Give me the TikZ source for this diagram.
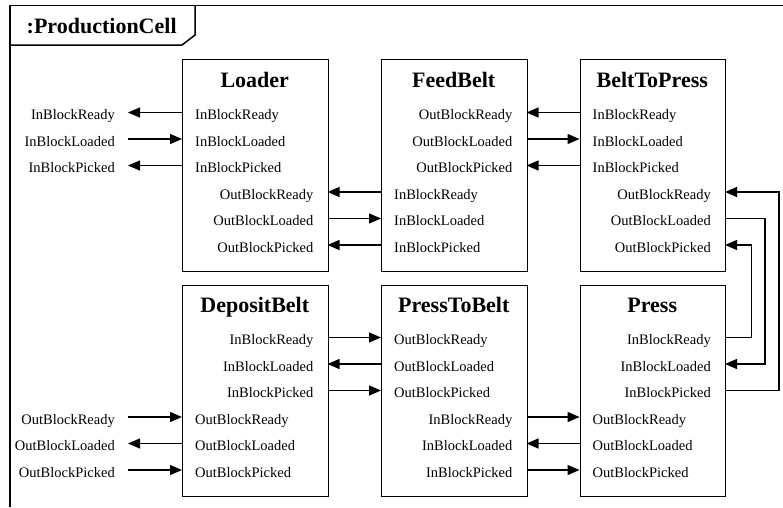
\documentclass[tikz,border=0pt]{standalone}
\usepackage{fontspec}
\setmainfont{Liberation Serif}
\usetikzlibrary{arrows.meta}
\begin{document}
\begin{tikzpicture}[x=1pt,y=-1pt,
  box/.style={draw,line width=1.3pt,minimum width=145.5pt,minimum height=211.5pt,anchor=north west,inner sep=0pt},
  ttl/.style={font=\fontsize{22}{26}\selectfont\bfseries,anchor=base,inner sep=0pt},
  lbl/.style={font=\fontsize{14.5}{17}\selectfont,inner sep=0pt},
  lw/.style={lbl,anchor=base west},
  le/.style={lbl,anchor=base east},
  conn/.style={line width=1.3pt,-{Triangle[length=12pt,width=10pt]}},
  frm/.style={line width=1.5pt}]
\useasboundingbox (0,0) rectangle (783,507);
% frame
\draw[frm] (10,507) -- (10,5.5) -- (783,5.5);
\draw[frm] (10,45) -- (182,45) -- (195,35) -- (195,5.5);
\node[ttl,anchor=base west] (pc) at (26.5,33.5) {:ProductionCell};
% boxes
\node[box] (loader) at (182,59) {};
\node[box] (feed) at (381,59) {};
\node[box] (btp) at (579.5,59) {};
\node[box] (dep) at (182,284.5) {};
\node[box] (ptb) at (381,284.5) {};
\node[box] (press) at (579.5,284.5) {};
\node[ttl] (loader-t) at (254.75,87) {Loader};
\node[ttl] (feed-t) at (453.75,87) {FeedBelt};
\node[ttl] (btp-t) at (652.25,87) {BeltToPress};
\node[ttl] (dep-t) at (254.75,312) {DepositBelt};
\node[ttl] (ptb-t) at (453.75,312) {PressToBelt};
\node[ttl] (press-t) at (652.25,312) {Press};
% ports
\foreach \i in {1,...,6} {
  \coordinate (loader-w\i) at (182,86+26.5*\i);
  \coordinate (loader-e\i) at (327.5,86+26.5*\i);
  \coordinate (feed-w\i) at (381,86+26.5*\i);
  \coordinate (feed-e\i) at (526.5,86+26.5*\i);
  \coordinate (btp-w\i) at (579.5,86+26.5*\i);
  \coordinate (btp-e\i) at (725,86+26.5*\i);
  \coordinate (dep-w\i) at (182,311+26.5*\i);
  \coordinate (dep-e\i) at (327.5,311+26.5*\i);
  \coordinate (ptb-w\i) at (381,311+26.5*\i);
  \coordinate (ptb-e\i) at (526.5,311+26.5*\i);
  \coordinate (press-w\i) at (579.5,311+26.5*\i);
  \coordinate (press-e\i) at (725,311+26.5*\i);
}
\coordinate (rail1) at (751.5,0);
\coordinate (rail2) at (765,0);
\coordinate (rail3) at (779,0);
% labels: top row
\foreach \t [count=\i] in {InBlockReady,InBlockLoaded,InBlockPicked} {
  \node[lw] (loader-l\i) at (195,93+26.5*\i) {\t};
  \node[le] (ext-l\i) at (115,93+26.5*\i) {\t};
  \coordinate (ext-p\i) at (128,86+26.5*\i);
  \node[lw] (btp-l\i) at (592.5,93+26.5*\i) {\t};
}
\foreach \t [count=\i from 4] in {OutBlockReady,OutBlockLoaded,OutBlockPicked} {
  \node[le] (loader-l\i) at (313.5,93+26.5*\i) {\t};
  \node[le] (btp-l\i) at (711,93+26.5*\i) {\t};
}
\foreach \t [count=\i] in {OutBlockReady,OutBlockLoaded,OutBlockPicked}
  \node[le] (feed-l\i) at (512.5,93+26.5*\i) {\t};
\foreach \t [count=\i from 4] in {InBlockReady,InBlockLoaded,InBlockPicked}
  \node[lw] (feed-l\i) at (394,93+26.5*\i) {\t};
% labels: bottom row
\foreach \t [count=\i] in {InBlockReady,InBlockLoaded,InBlockPicked} {
  \node[le] (dep-l\i) at (313.5,318+26.5*\i) {\t};
  \node[le] (press-l\i) at (711,318+26.5*\i) {\t};
}
\foreach \t [count=\i from 4] in {OutBlockReady,OutBlockLoaded,OutBlockPicked} {
  \node[lw] (dep-l\i) at (195,318+26.5*\i) {\t};
  \node[le] (ext-l\i) at (115,318+26.5*\i) {\t};
  \coordinate (ext-p\i) at (128,311+26.5*\i);
  \node[lw] (press-l\i) at (592.5,318+26.5*\i) {\t};
}
\foreach \t [count=\i] in {OutBlockReady,OutBlockLoaded,OutBlockPicked}
  \node[lw] (ptb-l\i) at (394,318+26.5*\i) {\t};
\foreach \t [count=\i from 4] in {InBlockReady,InBlockLoaded,InBlockPicked}
  \node[le] (ptb-l\i) at (512.5,318+26.5*\i) {\t};
% connectors top row
\draw[conn] (loader-w1) -- (ext-p1);
\draw[conn] (ext-p2) -- (loader-w2);
\draw[conn] (loader-w3) -- (ext-p3);
\draw[conn] (feed-w4) -- (loader-e4);
\draw[conn] (loader-e5) -- (feed-w5);
\draw[conn] (feed-w6) -- (loader-e6);
\draw[conn] (btp-w1) -- (feed-e1);
\draw[conn] (feed-e2) -- (btp-w2);
\draw[conn] (btp-w3) -- (feed-e3);
% loops
\draw[conn] (press-e1) -| (rail1 |- btp-e6) -- (btp-e6);
\draw[conn] (btp-e5) -| (rail2 |- press-e2) -- (press-e2);
\draw[conn] (press-e3) -| (rail3 |- btp-e4) -- (btp-e4);
% connectors bottom row
\draw[conn] (dep-e1) -- (ptb-w1);
\draw[conn] (ptb-w2) -- (dep-e2);
\draw[conn] (dep-e3) -- (ptb-w3);
\draw[conn] (ext-p4) -- (dep-w4);
\draw[conn] (dep-w5) -- (ext-p5);
\draw[conn] (ext-p6) -- (dep-w6);
\draw[conn] (ptb-e4) -- (press-w4);
\draw[conn] (press-w5) -- (ptb-e5);
\draw[conn] (ptb-e6) -- (press-w6);
\end{tikzpicture}
\end{document}
